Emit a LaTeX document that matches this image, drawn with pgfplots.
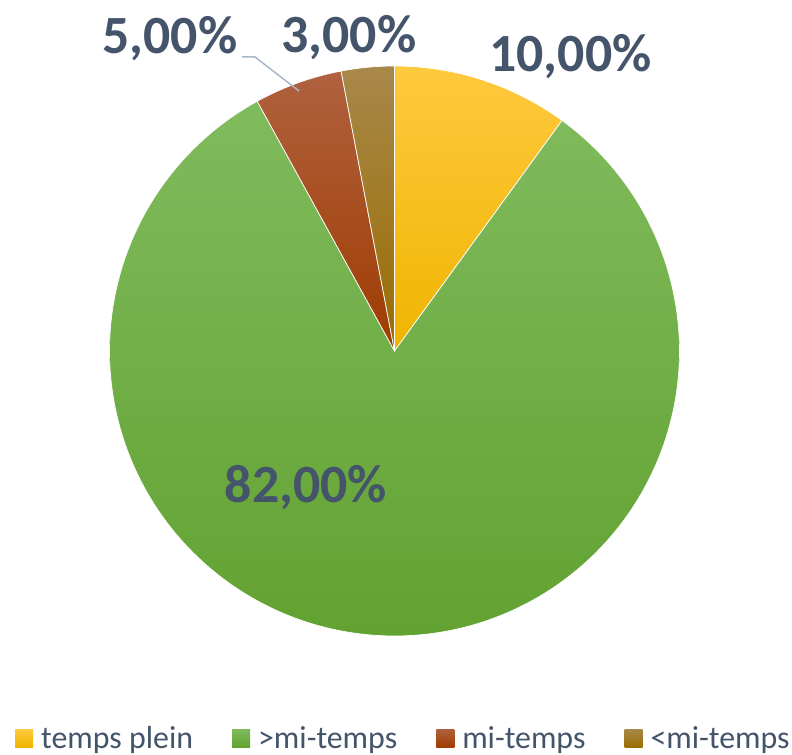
\documentclass[border=0pt]{standalone}
\usepackage{fontspec}
\setmainfont{Carlito}
\usepackage{pgfplots}
\pgfplotsset{compat=1.18}
\definecolor{lbl}{HTML}{44546A}
\definecolor{lead}{HTML}{A9B7CA}
\definecolor{ylT}{HTML}{FFC93E}
\definecolor{ylB}{HTML}{F0B400}
\definecolor{grT}{HTML}{80BB5D}
\definecolor{grB}{HTML}{62A231}
\definecolor{rdT}{HTML}{B0613F}
\definecolor{rdB}{HTML}{9F3C00}
\definecolor{brT}{HTML}{A8884A}
\definecolor{brB}{HTML}{9A6D00}
% data (percent)
\def\vA{10}\def\vB{82}\def\vC{5}\def\vD{3}
\def\cx{394.5}\def\cy{404}\def\R{285}
\pgfmathsetmacro\aO{90}
\pgfmathsetmacro\aA{\aO-3.6*\vA}
\pgfmathsetmacro\aB{\aA-3.6*\vB}
\pgfmathsetmacro\aC{\aB-3.6*\vC}
\pgfmathsetmacro\aD{\aC-3.6*\vD}
\begin{document}
\begin{tikzpicture}
\useasboundingbox (0,0) rectangle (792bp,755bp);
\begin{axis}[
  at={(0,0)}, anchor=south west,
  scale only axis, width=792bp, height=755bp,
  xmin=0, xmax=792, ymin=0, ymax=755,
  hide axis, clip=false,
  legend columns=4,
  legend cell align=left,
  legend style={at={(0.0189,0.0225)}, anchor=west, draw=none, fill=none,
    inner sep=0pt, font=\fontsize{32}{37}\selectfont, text=lbl,
    nodes={inner sep=0pt},
    /tikz/every odd column/.append style={column sep=8bp},
    /tikz/every even column/.append style={column sep=39bp}},
]
\addplot[forget plot, draw=white, line width=0.7bp, top color=ylT, bottom color=ylB,
  domain=\aA:\aO, samples=40] ({\cx+\R*cos(x)},{\cy+\R*sin(x)}) -- (axis cs:\cx,\cy) -- cycle;
\addplot[forget plot, draw=white, line width=0.7bp, top color=grT, bottom color=grB,
  domain=\aB:\aA, samples=240] ({\cx+\R*cos(x)},{\cy+\R*sin(x)}) -- (axis cs:\cx,\cy) -- cycle;
\addplot[forget plot, draw=white, line width=0.7bp, top color=rdT, bottom color=rdB,
  domain=\aC:\aB, samples=20] ({\cx+\R*cos(x)},{\cy+\R*sin(x)}) -- (axis cs:\cx,\cy) -- cycle;
\addplot[forget plot, draw=white, line width=0.7bp, top color=brT, bottom color=brB,
  domain=\aD:\aC, samples=20] ({\cx+\R*cos(x)},{\cy+\R*sin(x)}) -- (axis cs:\cx,\cy) -- cycle;
% leader line
\draw[lead, line width=1.5bp] (axis cs:242,698) -- (axis cs:255,698) -- (axis cs:299,664);
% labels
\begin{scope}[every node/.style={text=lbl, font=\fontsize{54}{60}\selectfont\bfseries, inner sep=0pt, anchor=base}]
\node at (axis cs:570.5,683) {10,00\%};
\node at (axis cs:306,252) {82,00\%};
\node at (axis cs:170,701) {5,00\%};
\node at (axis cs:349,702) {3,00\%};
\end{scope}
% legend
\addlegendimage{legend image code/.code={\path[draw=none, top color=ylT, bottom color=ylB] (0bp,-9bp) rectangle (18bp,9bp);}}
\addlegendentry{temps plein}
\addlegendimage{legend image code/.code={\path[draw=none, top color=grT, bottom color=grB] (0bp,-9bp) rectangle (18bp,9bp);}}
\addlegendentry{>mi-temps}
\addlegendimage{legend image code/.code={\path[draw=none, top color=rdT, bottom color=rdB] (0bp,-9bp) rectangle (18bp,9bp);}}
\addlegendentry{mi-temps}
\addlegendimage{legend image code/.code={\path[draw=none, top color=brT, bottom color=brB] (0bp,-9bp) rectangle (18bp,9bp);}}
\addlegendentry{<mi-temps}
\end{axis}
\end{tikzpicture}
\end{document}
